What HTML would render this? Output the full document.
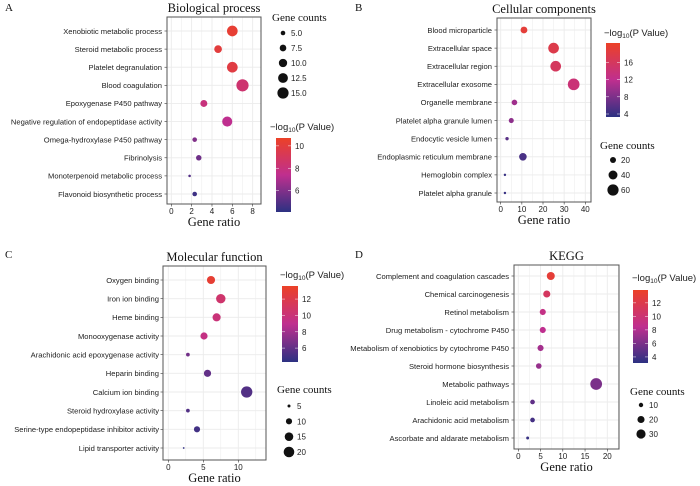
<!DOCTYPE html>
<html><head><meta charset="utf-8"><style>
body{margin:0;background:#fff}
svg{display:block}
text{font-family:"Liberation Sans",Arial,sans-serif;fill:#222}
.ser{font-family:"Liberation Serif","Times New Roman",serif;fill:#111}
</style></head><body>
<svg id="c" width="700" height="486" viewBox="0 0 700 486" xmlns="http://www.w3.org/2000/svg">
<defs>
<linearGradient id="pg" x1="0" y1="1" x2="0" y2="0">
<stop offset="0" stop-color="#2c3182"/><stop offset="0.5" stop-color="#bf2f8f"/><stop offset="1" stop-color="#ec4127"/>
</linearGradient>
</defs>
</svg>
<script>
// Panel A data
const catsA=["Xenobiotic metabolic process","Steroid metabolic process","Platelet degranulation","Blood coagulation","Epoxygenase P450 pathway","Negative regulation of endopeptidase activity","Omega-hydroxylase P450 pathway","Fibrinolysis","Monoterpenoid metabolic process","Flavonoid biosynthetic process"];
const ratioA=[6.0,4.6,6.0,7.0,3.2,5.5,2.3,2.7,1.8,2.3];
const countA=[14,9,14,17,8,13,5,6,3,5];
const pA=[10.3,10.0,9.8,8.4,8.0,7.4,6.0,5.6,5.0,4.5];
const xticksA=[0,2,4,6,8];
const cticksA=[10,8,6];
const sticksA=["5.0","7.5","10.0","12.5","15.0"];
// Panel B data
const catsB=["Blood microparticle","Extracellular space","Extracellular region","Extracellular exosome","Organelle membrane","Platelet alpha granule lumen","Endocytic vesicle lumen","Endoplasmic reticulum membrane","Hemoglobin complex","Platelet alpha granule"];
const ratioB=[11,25,26,34.5,6.5,5,3,10.5,2,2];
const countB=[25,55,55,65,18,15,8,30,5,5];
const pB=[19,17.5,16,14,10,9,6,5,4,4];
const xticksB=[0,10,20,30,40];
const cticksB=[16,12,8,4];
const sticksB=["20","40","60"];
// Panel C data
const catsC=["Oxygen binding","Iron ion binding","Heme binding","Monooxygenase activity","Arachidonic acid epoxygenase activity","Heparin binding","Calcium ion binding","Steroid hydroxylase activity","Serine-type endopeptidase inhibitor activity","Lipid transporter activity"];
const ratioC=[6.1,7.5,6.9,5.1,2.8,5.6,11.2,2.8,4.1,2.2];
const countC=[14,17,14,12,6,12,22,6,10,3];
const pC=[13,10.5,10,9.5,6.5,6,5.5,5.5,5,4.5];
const xticksC=[0,5,10];
const cticksC=[12,10,8,6];
const sticksC=["5","10","15","20"];
// Panel D data
const catsD=["Complement and coagulation cascades","Chemical carcinogenesis","Retinol metabolism","Drug metabolism - cytochrome P450","Metabolism of xenobiotics by cytochrome P450","Steroid hormone biosynthesis","Metabolic pathways","Linoleic acid metabolism","Arachidonic acid metabolism","Ascorbate and aldarate metabolism"];
const ratioD=[7.3,6.4,5.5,5.5,5.0,4.6,17.5,3.2,3.2,2.1];
const countD=[24,20,16,16,16,14,45,11,11,6];
const pD=[13,11,9,8.5,7.5,7,6,5,4,3.5];
const xticksD=[0,5,10,15,20];
const cticksD=[12,10,8,6,4];
const sticksD=["10","20","30"];

const svg=document.getElementById('c');
const NS="http://www.w3.org/2000/svg";
function mk(tag,attrs,parent){const e=document.createElementNS(NS,tag);for(const k in attrs)e.setAttribute(k,attrs[k]);(parent||svg).appendChild(e);return e;}
function txt(s,attrs,parent){const e=mk('text',attrs,parent);e.textContent=s;return e;}
function lerp(a,b,t){return a+(b-a)*t;}
function hex(c){return [parseInt(c.slice(1,3),16),parseInt(c.slice(3,5),16),parseInt(c.slice(5,7),16)];}
const C0=hex("#2c3182"),C1=hex("#bf2f8f"),C2=hex("#ec4127");
function col(t){t=Math.max(0,Math.min(1,t));let a,b,u;if(t<0.5){a=C0;b=C1;u=t/0.5;}else{a=C1;b=C2;u=(t-0.5)/0.5;}
return "rgb("+a.map((v,i)=>Math.round(lerp(v,b[i],u))).join(",")+")";}

function panel(P){
  const g=mk('g',{});
  
  
  const xs=v=>P.x0+(v)*P.xu;
  const ys=i=>P.yTop+i*(P.yBot-P.yTop)/(P.cats.length-1);
  const rs=c=>{const t=(Math.sqrt(c)-Math.sqrt(P.c0))/(Math.sqrt(P.c1)-Math.sqrt(P.c0));return Math.max(0.9,lerp(P.r0,P.r1,t));};
  const cs=p=>(p-P.pmin)/(P.pmax-P.pmin);
  const L=txt(P.letter,{x:P.lx,y:P.ly,'font-size':11,class:'ser'},g);
  
  
  const step=P.xt[1]-P.xt[0];
  for(let v=P.xt[0]-step/2;v<=P.xt[P.xt.length-1]+step;v+=step/2){
    const x=xs(v);if(x<=P.bx0||x>=P.bx1)continue;
    mk('line',{x1:x,x2:x,y1:P.by0,y2:P.by1,stroke:'#ebebeb','stroke-width':(Math.abs((v/step)%1)<1e-6)?0.9:0.5},g);
  }
  P.cats.forEach((c,i)=>{mk('line',{x1:P.bx0,x2:P.bx1,y1:ys(i),y2:ys(i),stroke:'#ebebeb','stroke-width':0.9},g);});
  P.cats.forEach((c,i)=>{
    const d=mk('circle',{cx:xs(P.xv[i]),cy:ys(i),r:rs(P.cnt[i]),fill:col(cs(P.pv[i]))},g);
    
    
    const t=txt(c,{x:P.labX,y:ys(i)+2.8,'font-size':7.6,'text-anchor':'end'},g);
    
    
    mk('line',{x1:P.bx0-2.5,x2:P.bx0,y1:ys(i),y2:ys(i),stroke:'#333','stroke-width':0.6},g);
  });
  const box=mk('rect',{x:P.bx0,y:P.by0,width:P.bx1-P.bx0,height:P.by1-P.by0,fill:'none',stroke:'#555','stroke-width':1},g);
  
  
  P.xt.forEach(v=>{
    mk('line',{x1:xs(v),x2:xs(v),y1:P.by1,y2:P.by1+2.5,stroke:'#333','stroke-width':0.6},g);
    const t=txt(String(v),{x:xs(v),y:P.by1+10,'font-size':8,'text-anchor':'middle'},g);
    
    
  });
  const xt=txt('Gene ratio',{x:(P.bx0+P.bx1)/2,y:P.by1+22,'font-size':12.5,'text-anchor':'middle',class:'ser'},g);
  
  
  const tt=txt(P.title,{x:(P.bx0+P.bx1)/2,y:P.by0-5,'font-size':12.5,'text-anchor':'middle',class:'ser'},g);
  
  
  const ct=txt('',{x:P.cbTx,y:P.cbTy,'font-size':9.5},g);
  
  
  const s1=document.createElementNS(NS,'tspan');s1.textContent='\u2212log';ct.appendChild(s1);
  const s2=document.createElementNS(NS,'tspan');s2.textContent='10';s2.setAttribute('font-size','6.5');s2.setAttribute('dy','2');ct.appendChild(s2);
  const s3=document.createElementNS(NS,'tspan');s3.textContent='(P Value)';s3.setAttribute('dy','-2');ct.appendChild(s3);
  const cb=mk('rect',{x:P.cbx0,y:P.cby0,width:P.cbx1-P.cbx0,height:P.cby1-P.cby0,fill:'url(#pg)'},g);
  
  
  P.ct.forEach(v=>{
    const y=P.cby1-cs(v)*(P.cby1-P.cby0);
    mk('line',{x1:P.cbx0,x2:P.cbx0+3,y1:y,y2:y,stroke:'#fff','stroke-width':0.6,opacity:0.8},g);
    mk('line',{x1:P.cbx1-3,x2:P.cbx1,y1:y,y2:y,stroke:'#fff','stroke-width':0.6,opacity:0.8},g);
    const t=txt(String(v),{x:P.cbx1+4,y:y+3,'font-size':8},g);
    
    
  });
  const st=txt('Gene counts',{x:P.sTx,y:P.sTy,'font-size':11,class:'ser'},g);
  
  
  P.st.forEach((s,i)=>{
    const y=P.sy[0]+i*(P.sy[1]-P.sy[0])/(P.st.length-1);
    const c=mk('circle',{cx:P.sx,cy:y,r:rs(parseFloat(s)),fill:'#111'},g);
    
    
    const t=txt(s,{x:P.sx+8,y:y+3,'font-size':8},g);
    
    
  });
}

panel({name:'panel-a-biological-process',letter:'A',lx:5,ly:11,title:'Biological process',cats:catsA,xv:ratioA,cnt:countA,pv:pA,xt:xticksA,ct:cticksA,st:sticksA,
 x0:171.3,xu:10.17,bx0:167,bx1:261,by0:17,by1:204,yTop:31,yBot:194,labX:162,
 c0:5,c1:15,r0:2.3,r1:5.6,pmin:4.1,pmax:10.7,
 cbx0:276,cbx1:291,cby0:138,cby1:212,cbTx:270,cbTy:130,sTx:272,sTy:21,sx:283,sy:[33,93]});
panel({name:'panel-b-cellular-components',letter:'B',lx:355,ly:11,title:'Cellular components',cats:catsB,xv:ratioB,cnt:countB,pv:pB,xt:xticksB,ct:cticksB,st:sticksB,
 x0:500.7,xu:2.115,bx0:497,bx1:591,by0:18,by1:202,yTop:30,yBot:193,labX:492,
 c0:20,c1:60,r0:3.0,r1:5.6,pmin:3.3,pmax:20.5,
 cbx0:606,cbx1:620,cby0:43,cby1:117,cbTx:604,cbTy:36,sTx:600,sTy:149,sx:613,sy:[160,190]});
panel({name:'panel-c-molecular-function',letter:'C',lx:5,ly:258,title:'Molecular function',cats:catsC,xv:ratioC,cnt:countC,pv:pC,xt:xticksC,ct:cticksC,st:sticksC,
 x0:168.3,xu:7.0,bx0:163,bx1:266,by0:266,by1:460,yTop:280,yBot:448,labX:159,
 c0:5,c1:20,r0:1.5,r1:5.3,pmin:4.3,pmax:13.6,
 cbx0:282,cbx1:298,cby0:286,cby1:362,cbTx:280,cbTy:278,sTx:277,sTy:393,sx:289,sy:[406,452]});
panel({name:'panel-d-kegg',letter:'D',lx:355,ly:258,title:'KEGG',cats:catsD,xv:ratioD,cnt:countD,pv:pD,xt:xticksD,ct:cticksD,st:sticksD,
 x0:518.3,xu:4.45,bx0:514,bx1:619,by0:265,by1:449,yTop:276,yBot:438,labX:509,
 c0:10,c1:30,r0:2.2,r1:4.6,pmin:3.1,pmax:13.9,
 cbx0:633,cbx1:648,cby0:290,cby1:363,cbTx:632,cbTy:281,sTx:630,sTy:395,sx:641,sy:[405,434]});
</script>
</body></html>
